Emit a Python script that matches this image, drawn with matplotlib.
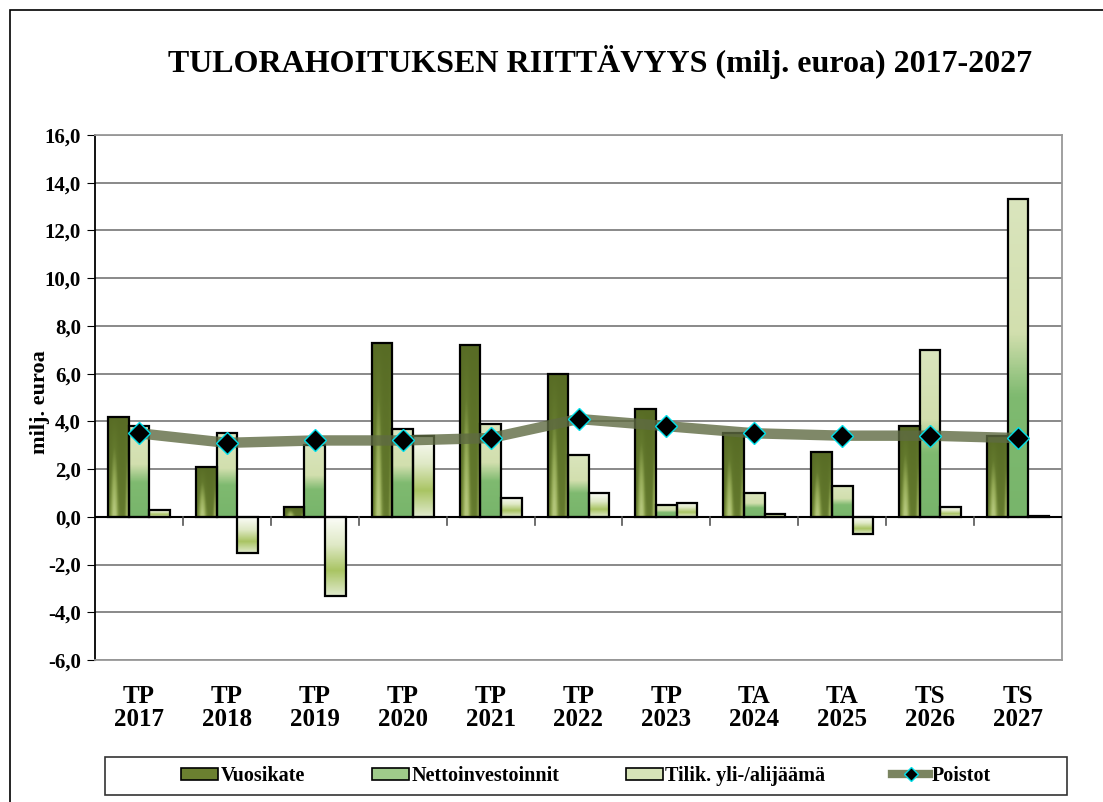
import numpy as np
import matplotlib.pyplot as plt
from matplotlib.colors import LinearSegmentedColormap
from matplotlib.patches import Patch, Rectangle
from matplotlib.lines import Line2D
from matplotlib.ticker import FuncFormatter, MultipleLocator

# ============================================================
# DATA
# ============================================================
categories = ['TP\n2017', 'TP\n2018', 'TP\n2019', 'TP\n2020', 'TP\n2021', 'TP\n2022',
              'TP\n2023', 'TA\n2024', 'TA\n2025', 'TS\n2026', 'TS\n2027']
vuosikate = [4.2, 2.1, 0.4, 7.3, 7.2, 6.0, 4.5, 3.5, 2.7, 3.8, 3.4]
nettoinv = [3.8, 3.5, 3.0, 3.7, 3.9, 2.6, 0.5, 1.0, 1.3, 7.0, 13.3]
tilik = [0.3, -1.5, -3.3, 3.4, 0.8, 1.0, 0.6, 0.1, -0.7, 0.4, 0.05]
poistot = [3.5, 3.1, 3.2, 3.2, 3.3, 4.1, 3.8, 3.5, 3.4, 3.4, 3.3]

# ============================================================
# STYLE
# ============================================================
plt.rcParams['font.family'] = ['Liberation Serif', 'DejaVu Serif']
plt.rcParams['font.weight'] = 'bold'

cm_vuosi = LinearSegmentedColormap.from_list('v', ['#586c25', '#63792d', '#93a955', '#b3c67a'])
cm_netto = LinearSegmentedColormap.from_list(
    'n', [(0, '#dae5bd'), (0.42, '#d2dfae'), (0.62, '#7fba70'), (1, '#78b56b')])
cm_tilik = LinearSegmentedColormap.from_list(
    't', [(0, '#fbfcf7'), (0.35, '#dfe9c6'), (0.68, '#a9c463'), (1, '#e0eacd')])


def grad_bar(ax, bar, cmap, kind):
    # fill one bar with a gradient image clipped to the bar
    x0, w = bar.get_x(), bar.get_width()
    y0, h = bar.get_y(), bar.get_height()
    lo, hi = min(y0, y0 + h), max(y0, y0 + h)
    down = np.linspace(0, 1, 100)[:, None]   # 0 at top, 1 at bottom
    xx = np.linspace(0, 1, 30)[None, :]
    if kind == 'v':
        stripe = np.exp(-((xx - 0.3) / 0.16) ** 2) + 0.7 * np.exp(-((xx - 0.95) / 0.1) ** 2)
        arr = np.clip(down * 0.35 + stripe * down * 0.75, 0, 1)
    else:
        arr = np.repeat(down, 30, axis=1)
    im = ax.imshow(arr, extent=[x0, x0 + w, lo, hi], origin='upper', aspect='auto',
                   cmap=cmap, vmin=0, vmax=1, zorder=2)
    im.set_clip_path(bar)


# ============================================================
# FIGURE
# ============================================================
fig = plt.figure(figsize=(11.03, 8.02), dpi=100)
ax = fig.add_axes([95 / 1103, 142 / 802, 967 / 1103, 525 / 802])

x = np.arange(len(categories))
w = 0.235

b1 = ax.bar(x - w, vuosikate, w, facecolor='none', edgecolor='black', lw=1.6, zorder=3)
b2 = ax.bar(x, nettoinv, w, facecolor='none', edgecolor='black', lw=1.6, zorder=3)
b3 = ax.bar(x + w, tilik, w, facecolor='none', edgecolor='black', lw=1.6, zorder=3)
for bar in b1:
    grad_bar(ax, bar, cm_vuosi, 'v')
for bar in b2:
    grad_bar(ax, bar, cm_netto, 'n')
for bar in b3:
    grad_bar(ax, bar, cm_tilik, 't')

ax.plot(x, poistot, color='#5f6b42', lw=7.5, alpha=0.8, zorder=4, solid_capstyle='butt')
ax.plot(x, poistot, ls='none', marker='D', ms=11, mfc='black', mec='#00e0ea', mew=1.0, zorder=5)

ax.set_xlim(-0.5, len(categories) - 0.5)
ax.set_ylim(-6, 16)
ax.yaxis.set_major_locator(MultipleLocator(2))
ax.yaxis.set_major_formatter(FuncFormatter(lambda v, p: f'{v:.1f}'.replace('.', ',')))
ax.grid(axis='y', color='#808080', lw=1.3, zorder=0)
ax.set_axisbelow(True)
ax.axhline(0, color='black', lw=1.5, zorder=3)

for s in ['top', 'right', 'bottom']:
    ax.spines[s].set_color('#999999')
    ax.spines[s].set_linewidth(1.3)
ax.spines['left'].set_color('black')
ax.spines['left'].set_linewidth(1.3)

ax.tick_params(axis='y', direction='out', length=6, labelsize=15, pad=4)
ax.set_xticks(x)
ax.set_xticklabels(categories, fontsize=18, fontweight='bold', linespacing=1.0)
ax.tick_params(axis='x', length=0, pad=18)

# category separators on the zero line
for k in range(1, len(categories)):
    ax.plot([k - 0.5, k - 0.5], [0, -0.35], color='#555555', lw=1.2, zorder=3, clip_on=False)

fig.text(40 / 1103, 1 - 402 / 802, 'milj. euroa', rotation=90, ha='center', va='center',
         fontsize=16, fontweight='bold')
fig.text(600 / 1103, 1 - 62 / 802, 'TULORAHOITUKSEN RIITTÄVYYS (milj. euroa) 2017-2027',
         ha='center', va='center', fontsize=23, fontweight='bold')

# legend box with entries centred inside it
fig.patches.append(Rectangle((105 / 1103, 1 - 795 / 802), 962 / 1103, 38 / 802,
                             transform=fig.transFigure, fill=False, edgecolor='#333333', lw=1.2))
handles = [
    Patch(facecolor='#6b8030', edgecolor='black', lw=1.2, label='Vuosikate'),
    Patch(facecolor='#9fcb8a', edgecolor='black', lw=1.2, label='Nettoinvestoinnit'),
    Patch(facecolor='#d7e4b8', edgecolor='black', lw=1.2, label='Tilik. yli-/alijäämä'),
    Line2D([], [], color='#7a8460', lw=6, marker='D', ms=7, mfc='black', mec='#00e0ea',
           mew=1.0, label='Poistot'),
]
fig.legend(handles=handles, loc='center', ncol=4,
           bbox_to_anchor=(586 / 1103, 1 - 776 / 802),
           fontsize=14.5, frameon=False, handlelength=1.85, handleheight=0.6,
           handletextpad=0.12, columnspacing=3.3, borderaxespad=0)

fig.patches.append(Rectangle((10 / 1103, -0.05), 1.2, 1.05 - 10 / 802, transform=fig.transFigure,
                             fill=False, edgecolor='black', lw=1.2))

fig.savefig('out.png', dpi=100)
